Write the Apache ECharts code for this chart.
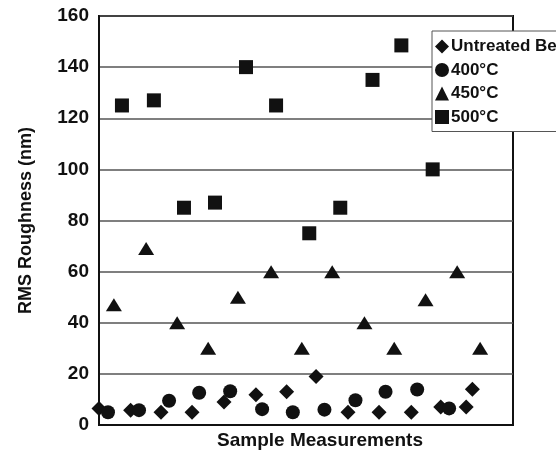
<!DOCTYPE html>
<html lang="en">
<head>
    <meta charset="UTF-8">
    <title>RMS Roughness</title>
    <script src="https://cdn.jsdelivr.net/npm/echarts@6/dist/echarts.min.js"></script>
<style>
    html,body{margin:0;padding:0;background:#fff;}
    #tu{width:556px;height:455px;}
</style>
</head>
<body>
<div id="tu"></div>
<script>
    // positions along x are in "sample" units, values in nm
    var untreatedX=[0.00,1.02,2.00,3.00,4.03,5.06,6.05,7.00,8.03,9.03,10.07,11.02,11.84,12.04];
    var untreatedY=[6.5,5.8,5,5,9,11.8,13,19,5,5,5,7,7,14];
    var c400X=[0.29,1.29,2.26,3.23,4.23,5.26,6.25,7.27,8.27,9.24,10.26,11.29];
    var c400Y=[5,5.8,9.5,12.6,13.2,6.2,5,6,9.7,13,13.9,6.5];
    var c450X=[0.48,1.52,2.52,3.52,4.48,5.55,6.54,7.52,8.56,9.52,10.53,11.55,12.29];
    var c450Y=[47,69,40,30,50,60,30,60,40,30,49,60,30];
    var c500X=[0.74,1.77,2.74,3.74,4.74,5.71,6.78,7.78,8.82,9.75,10.76];
    var c500Y=[125,127,85,87,140,125,75,85,135,148.5,100];
    var names=['Untreated Be','400°C','450°C','500°C'];
    var yTicks=[0,20,40,60,80,100,120,140,160];

    function pts(xs,ys){
        return xs.map(function(x,i){return [x,ys[i]];});
    }

    var fnt='"Liberation Sans",Arial,sans-serif';
    var tu=echarts.init(document.getElementById('tu'));
    var option={
        animation:false,
        grid:{left:99,top:16,right:43,bottom:28,show:true,borderColor:'#111',borderWidth:2,backgroundColor:'#fff'},
        legend:{
            orient:'vertical',left:432,top:31,
            data:names,
            itemWidth:14,itemHeight:14,itemGap:6.5,
            padding:[7,6,6,3],
            backgroundColor:'#fff',borderColor:'#555',borderWidth:1,
            textStyle:{fontFamily:fnt,fontWeight:'bold',fontSize:17,color:'#111',padding:[0,0,0,-3]}
        },
        xAxis:{
            type:'value',min:0,max:13.35,
            name:'Sample Measurements',nameLocation:'middle',nameGap:6,
            nameTextStyle:{fontFamily:fnt,fontWeight:'bold',fontSize:19,color:'#111',padding:[0,0,0,28]},
            axisLine:{show:true,lineStyle:{color:'#111',width:2}},
            axisTick:{show:false},axisLabel:{show:false},splitLine:{show:false}
        },
        yAxis:{
            type:'value',min:yTicks[0],max:yTicks[yTicks.length-1],interval:20,
            name:'RMS Roughness (nm)',nameLocation:'middle',nameGap:64,
            nameTextStyle:{fontFamily:fnt,fontWeight:'bold',fontSize:18,color:'#111'},
            axisLine:{show:true,lineStyle:{color:'#111',width:2}},
            axisTick:{show:false},
            axisLabel:{fontFamily:fnt,fontWeight:'bold',fontSize:19,color:'#111',margin:10},
            splitLine:{show:true,lineStyle:{color:'#555',width:1.5}}
        },
        series:[
            {name:names[0],type:'scatter',symbol:'diamond',symbolSize:15,itemStyle:{color:'#111',opacity:1},data:pts(untreatedX,untreatedY)},
            {name:names[1],type:'scatter',symbol:'circle',symbolSize:14,itemStyle:{color:'#111',opacity:1},data:pts(c400X,c400Y)},
            {name:names[2],type:'scatter',symbol:'triangle',symbolSize:[16,13],itemStyle:{color:'#111',opacity:1},data:pts(c450X,c450Y)},
            {name:names[3],type:'scatter',symbol:'rect',symbolSize:14,itemStyle:{color:'#111',opacity:1},data:pts(c500X,c500Y)}
        ]
    };
    tu.setOption(option);
</script>
</body>
</html>
